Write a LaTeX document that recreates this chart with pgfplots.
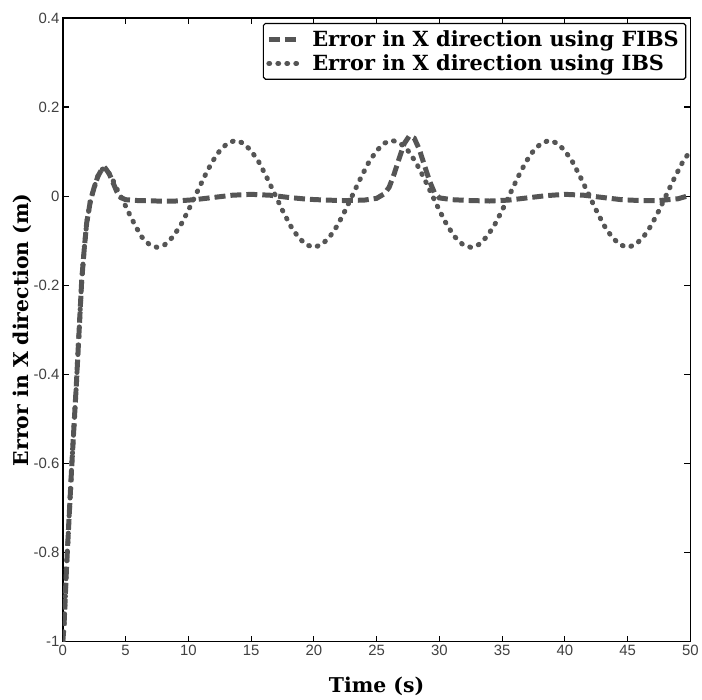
\documentclass[border=0pt]{standalone}
\usepackage{pgfplots}
\pgfplotsset{compat=1.18}
\usepackage{fontspec}
\setmainfont{DejaVu Serif}
\newfontfamily\tickfont{Liberation Sans}
\definecolor{curve}{HTML}{555555}
\begin{document}
\begin{tikzpicture}
\begin{axis}[
  scale only axis, width=629bp, height=625bp,
  xmin=0, xmax=50, ymin=-1, ymax=0.4,
  xtick={0,5,10,15,20,25,30,35,40,45,50},
  xticklabels={0,5,10,15,20,25,30,35,40,45,50},
  ytick={-1,-0.8,-0.6,-0.4,-0.2,0,0.2,0.4},
  yticklabels={-1,-0.8,-0.6,-0.4,-0.2,0,0.2,0.4},
  tick align=inside, major tick length=6bp,
  every tick/.style={black, line width=1.2bp},
  axis line style={line width=1.6bp, black},
  tick label style={font=\tickfont\fontsize{15}{15}\selectfont, text=black!75},
  label style={font=\fontsize{20.5}{24}\selectfont\bfseries},
  xlabel={Time (s)}, ylabel={Error in X direction (m)},
  xlabel style={yshift=-15bp},
  ylabel style={yshift=-5bp},
  legend style={at={(1,1)}, anchor=north east, xshift=-4bp, yshift=-5bp,
    draw=black, line width=1.2bp, font=\fontsize{21}{25}\selectfont\bfseries,
    rounded corners=2pt, inner xsep=3bp, inner ysep=5bp, row sep=3bp,
    nodes={inner xsep=4bp}},
  legend cell align=left,
  legend image code/.code={\draw[#1] (0bp,0bp) -- (29bp,0bp);},
]
\addplot[curve, line width=5bp, dash pattern=on 11bp off 5bp] coordinates {
(0,-1) (0.1,-0.96) (0.3,-0.83) (0.5,-0.72) (0.7,-0.61) (0.9,-0.51) (1.1,-0.41)
(1.3,-0.30) (1.5,-0.19) (1.7,-0.12) (1.9,-0.06) (2.2,-0.01) (2.5,0.02) (2.8,0.045)
(3.1,0.06) (3.4,0.062) (3.7,0.05) (4.0,0.03) (4.3,0.01) (4.6,-0.003) (5.0,-0.008)
(6,-0.01) (7.5,-0.011) (9,-0.011) (10.5,-0.008) (12,-0.003) (13.5,0.002) (15,0.004)
(16.5,0.002) (18,-0.003) (19.5,-0.007) (21,-0.009) (22.5,-0.01) (24,-0.009) (25,-0.005)
(25.6,0.005) (26.0,0.02) (26.4,0.05) (26.8,0.085) (27.2,0.118) (27.6,0.135) (28.0,0.13)
(28.4,0.105) (28.8,0.07) (29.2,0.035) (29.6,0.008) (30.0,-0.004) (31,-0.008) (32.5,-0.01)
(34,-0.011) (35.5,-0.009) (37,-0.004) (38.5,0.001) (40,0.004) (41.5,0.002) (43,-0.003)
(44.5,-0.008) (46,-0.01) (47.5,-0.01) (49,-0.006) (50,0.002)
};
\addlegendentry{\hspace{8bp}Error in X direction using FIBS}
\addplot[curve, line width=5bp, line cap=round, dash pattern=on 0.8bp off 8.2bp] coordinates {
(0,-1) (0.1,-0.96) (0.3,-0.83) (0.5,-0.72) (0.7,-0.61) (0.9,-0.51) (1.1,-0.41)
(1.3,-0.30) (1.5,-0.19) (1.7,-0.12) (1.9,-0.06) (2.2,-0.01) (2.5,0.02) (2.8,0.045)
(3.1,0.06) (3.4,0.062) (3.7,0.05) (4.0,0.035) (4.4,0.01) (4.7,-0.005) (5.3,-0.04)
(5.8,-0.068) (6.3,-0.092) (6.9,-0.109)
(7.5,-0.115) (8.125,-0.109) (8.75,-0.092) (9.375,-0.066) (10,-0.032) (10.625,0.005)
(11.25,0.042) (11.875,0.076) (12.5,0.102) (13.125,0.119) (13.75,0.125) (14.375,0.119)
(15,0.102) (15.625,0.076) (16.25,0.042) (16.875,0.005) (17.5,-0.032) (18.125,-0.066)
(18.75,-0.092) (19.375,-0.109)
(20,-0.115) (20.625,-0.109) (21.25,-0.092) (21.875,-0.066) (22.5,-0.032) (23.125,0.005)
(23.75,0.042) (24.375,0.076) (25,0.102) (25.625,0.119) (26.25,0.125) (26.875,0.119)
(27.5,0.102) (28.125,0.076) (28.75,0.042) (29.375,0.005) (30,-0.032) (30.625,-0.066)
(31.25,-0.092) (31.875,-0.109)
(32.5,-0.115) (33.125,-0.109) (33.75,-0.092) (34.375,-0.066) (35,-0.032) (35.625,0.005)
(36.25,0.042) (36.875,0.076) (37.5,0.102) (38.125,0.119) (38.75,0.125) (39.375,0.119)
(40,0.102) (40.625,0.076) (41.25,0.042) (41.875,0.005) (42.5,-0.032) (43.125,-0.066)
(43.75,-0.092) (44.375,-0.109)
(45,-0.115) (45.625,-0.109) (46.25,-0.092) (46.875,-0.066) (47.5,-0.032) (48.125,0.005)
(48.75,0.042) (49.375,0.076) (50,0.102)
};
\addlegendentry{\hspace{8bp}Error in X direction using IBS}
\end{axis}
\path (current axis.south west) ++(-63bp,-55bp) rectangle ++(702bp,698bp);
\end{tikzpicture}
\end{document}
